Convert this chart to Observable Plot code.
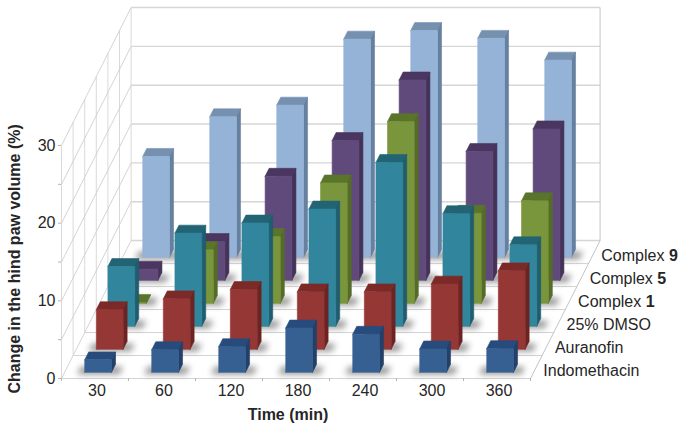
<!DOCTYPE html>
<html>
<head>
<meta charset="utf-8">
<script src="https://cdn.jsdelivr.net/npm/d3@7"></script>
<script src="https://cdn.jsdelivr.net/npm/@observablehq/plot@0.6"></script>
<style>
html,body{margin:0;padding:0;background:#fff}
svg{display:block}
</style>
</head>
<body>
<div id="chart"></div>
<script>
const times = ["30","60","120","180","240","300","360"];
const groups = ["Indomethacin","Auranofin","25% DMSO","Complex 1","Complex 5","Complex 9"];

const indomethacin = [1.6,2.9,3.3,5.7,4.9,3.0,3.05];
const auranofin    = [5.1,6.5,7.7,7.4,7.4,8.4,10.1];
const dmso         = [7.7,12.0,13.3,15.1,21.1,14.5,10.5];
const complex1     = [0.1,6.9,8.6,15.5,23.4,11.6,13.2];
const complex5     = [1.45,5.0,13.4,18.0,25.8,16.6,19.5];
const complex9     = [13.0,18.1,19.6,28.1,29.2,28.2,25.4];
const series = [indomethacin,auranofin,dmso,complex1,complex5,complex9];

const frontColors = ["#376092","#953735","#31859c","#7a963c","#604a7b","#95b3d7"];
const sideColors  = ["#234069","#6b2422","#1f5d6f","#556c28","#443257","#66809f"];
const topColors   = ["#274b7c","#7c2a28","#226474","#5a7529","#4a3660","#7690b0"];

const yTicks = [0,5,10,15,20,25,30];
const rows = d3.range(7);

// oblique projection: one row of depth, in units of the x and y scales
const dxRow = 11.6/67, dyRow = 23/7.77;
const X = (c,d) => c + d*dxRow;
const Y = (v,d) => v + d*dyRow;

// walls and floor grid
const gridBack = yTicks.map(v => ({x1:X(0,6),x2:X(7,6),y1:Y(v,6),y2:Y(v,6)}));
const gridLeft = yTicks.map(v => ({x1:X(0,0),x2:X(0,6),y1:Y(v,0),y2:Y(v,6)}));
const gridVert = rows.map(d => ({x1:X(0,d),x2:X(0,d),y1:Y(0,d),y2:Y(30,d)}));
const gridFloor = rows.map(d => ({x1:X(0,d),x2:X(7,d),y1:Y(0,d),y2:Y(0,d)}));
const edgeRight = [{x1:X(7,0),x2:X(7,6),y1:Y(0,0),y2:Y(0,6)},{x1:X(7,6),x2:X(7,6),y1:Y(0,6),y2:Y(30,6)}];

// bar faces
const barL = 0.3, barR = 0.7, dFront = 0.27, dBack = 0.615;
const faces = [], shadows = [];
function poly(list,id,fill,pts){pts.concat([pts[0]]).forEach(p=>list.push({id,fill,x:p[0],y:p[1]}));}
for (let g = series.length-1; g >= 0; g--) {
  series[g].forEach((v,i) => {
    const a=i+barL,b=i+barR,f=g+dFront,k=g+dBack;
    poly(shadows,`s${g}-${i}`,"#6f6f6f",[
      [X(a-0.1,f-0.08),Y(0,f-0.08)],[X(b+0.13,f-0.08),Y(0,f-0.08)],
      [X(b+0.13,k-0.1),Y(0,k-0.1)],[X(a-0.1,k-0.1),Y(0,k-0.1)]]);
    poly(faces,`t${g}-${i}`,topColors[g],[
      [X(a,f),Y(v,f)],[X(b,f),Y(v,f)],[X(b,k),Y(v,k)],[X(a,k),Y(v,k)]]);
    poly(faces,`r${g}-${i}`,sideColors[g],[
      [X(b,f),Y(0,f)],[X(b,k),Y(0,k)],[X(b,k),Y(v,k)],[X(b,f),Y(v,f)]]);
    poly(faces,`f${g}-${i}`,frontColors[g],[
      [X(a,f),Y(0,f)],[X(b,f),Y(0,f)],[X(b,f),Y(v,f)],[X(a,f),Y(v,f)]]);
  });
}

const linkOf = (data,stroke,strokeWidth) => Plot.link(data,{x1:"x1",y1:"y1",x2:"x2",y2:"y2",stroke,strokeWidth});
const centers = times.map((t,i)=>i+0.5);

const plot = Plot.plot({
  width:683,height:430,
  marginLeft:61,marginRight:153,marginTop:145,marginBottom:52,
  x:{domain:[0,7],axis:null},
  y:{domain:[0,30],axis:null},
  style:{fontFamily:"'Liberation Sans',Arial,sans-serif",fontSize:"16px",background:"#fff",color:"#262626"},
  marks:[
    linkOf(gridVert,"#cfcfcf",0.8),
    linkOf(gridLeft,"#cfcfcf",0.9),
    linkOf(gridFloor,"#d4d4d4",1),
    linkOf(gridBack,"#d6d6d6",1.4),
    linkOf(edgeRight,"#c4c4c4",1),
    Plot.line(shadows,{x:"x",y:"y",z:"id",fill:"fill",stroke:"none",imageFilter:"blur(3px)",fillOpacity:0.75}),
    Plot.line(faces,{x:"x",y:"y",z:"id",fill:"fill",stroke:"fill",strokeWidth:0.6,strokeLinejoin:"round"}),
    Plot.axisX({ticks:d3.range(8),tickSize:3,text:null,stroke:"#b5b5b5"}),
    Plot.axisX({ticks:centers,tickSize:0,tickPadding:6,dx:2,fontSize:16,tickFormat:d=>times[d-0.5]}),
    Plot.axisY({ticks:yTicks,tickSize:3,tickPadding:3,fontSize:16,stroke:"#b5b5b5",fill:"#262626",
      tickFormat:d=>d%10?"":String(d)}),
    Plot.text(groups,{
      text:d=>d,
      x:(d,i)=>X(7,i+0.5),y:(d,i)=>Y(0,i+0.5),
      textAnchor:"start",dx:7,dy:4,fontSize:16,fill:"#262626"}),
    Plot.text(["Time (min)"],{frameAnchor:"bottom",dx:-8,dy:41,fontWeight:"bold",fontSize:16,fill:"#262626"}),
    Plot.text(["Change in the hind paw volume (%)"],{x:()=>0,y:()=>15.4,dx:-47,rotate:-90,fontWeight:"bold",fontSize:16,fill:"#262626"})
  ]
});

// the number in "Complex n" is bold in the legend
d3.select(plot).selectAll("text").each(function(){
  const t=this.textContent, m=/^(Complex )(\d)$/.exec(t);
  if(!m) return;
  const s=d3.select(this); s.text(null);
  s.append("tspan").attr("xml:space","preserve").style("white-space","pre").text(m[1]);
  s.append("tspan").attr("font-weight","bold").text(m[2]);
});
document.getElementById("chart").appendChild(plot);
</script>
</body>
</html>
